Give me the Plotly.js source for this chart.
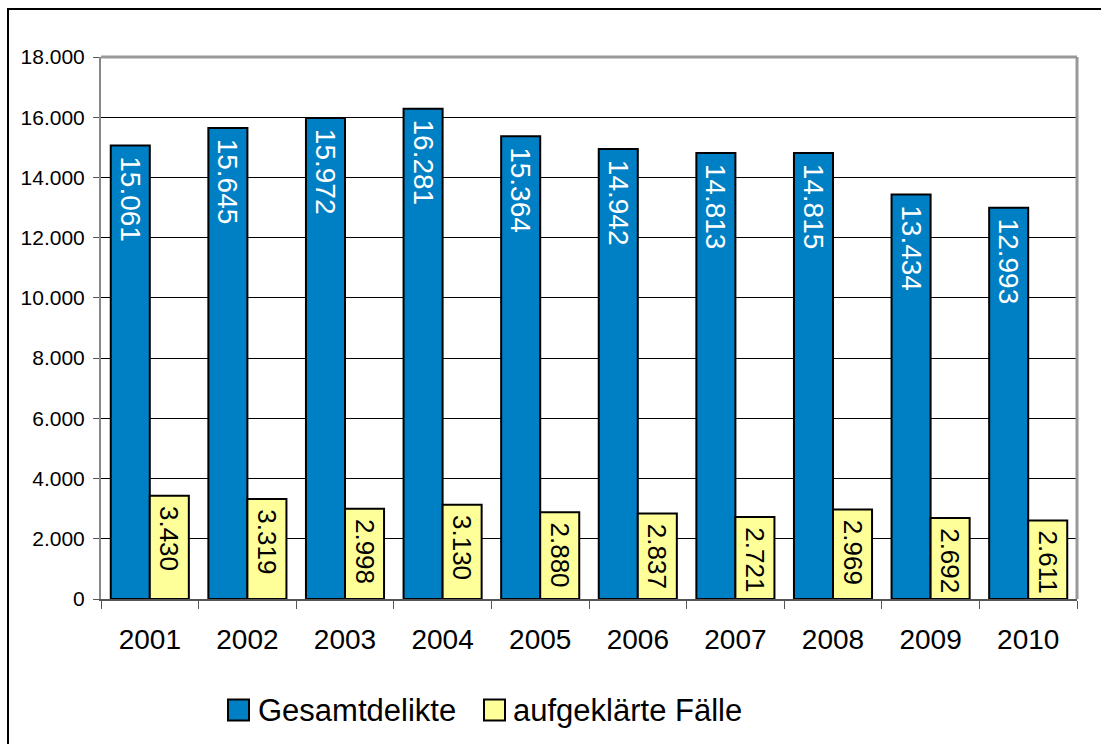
<!DOCTYPE html>
<html>
<head>
<meta charset="utf-8">
<script src="https://cdn.plot.ly/plotly-3.0.1.min.js"></script>
<style>
html,body{margin:0;padding:0;overflow:hidden;background:#fff;}
#frame{position:absolute;left:7px;top:8px;width:1300px;height:1000px;border-left:2px solid #000;border-top:2px solid #000;pointer-events:none;z-index:10;}
#chart{position:absolute;left:0;top:0;width:1101px;height:744px;}
</style>
</head>
<body>
<div id="chart"></div>
<div id="frame"></div>
<script>
const years = ['2001','2002','2003','2004','2005','2006','2007','2008','2009','2010'];
const gesamtdelikte = [15061,15645,15972,16281,15364,14942,14813,14815,13434,12993];
const aufgeklaerte = [3430,3319,2998,3130,2880,2837,2721,2969,2692,2611];
const yTicks = [0,2000,4000,6000,8000,10000,12000,14000,16000,18000];
const seriesNames = ['Gesamtdelikte','aufgeklärte Fälle'];
const seriesColors = ['#0080C4','#FFFF99'];

const font = 'Liberation Sans, Arial, sans-serif';
const W = 1101, H = 744, ML = 101, MR = 24, MT = 57, MB = 145;
const PW = W - ML - MR, PH = H - MT - MB;
const px = v => (v - ML) / PW;
const py = v => (H - MB - v) / PH;

const traces = [
  {
    type:'bar', name:seriesNames[0], x:years, y:gesamtdelikte,
    marker:{color:seriesColors[0], line:{color:'#000', width:2}},
    texttemplate:'\u00a0%{y:,d}', textposition:'inside', insidetextanchor:'end',
    textangle:90, insidetextfont:{family:font, size:28, color:'#fff'},
    constraintext:'none', hoverinfo:'none', showlegend:false
  },
  {
    type:'bar', name:seriesNames[1], x:years, y:aufgeklaerte,
    marker:{color:seriesColors[1], line:{color:'#000', width:2}},
    texttemplate:'\u00a0%{y:,d}', textposition:'inside', insidetextanchor:'end',
    textangle:90, insidetextfont:{family:font, size:26, color:'#000'},
    constraintext:'none', hoverinfo:'none', showlegend:false
  }
];

// custom legend (symbol boxes + labels)
const legendSymX = [228, 484];
const legendTxtX = [256, 511];
const legendY = 710;
const shapes = [
  {type:'line', xref:'paper', yref:'paper', x0:0, x1:1, y0:1, y1:1, line:{color:'#999', width:3}},
  {type:'line', xref:'paper', yref:'paper', x0:1, x1:1, y0:0, y1:1, line:{color:'#999', width:3}}
];
const annotations = [];
seriesNames.forEach((n, i) => {
  shapes.push({type:'rect', xref:'paper', yref:'paper',
    x0:px(legendSymX[i]), x1:px(legendSymX[i] + 21), y0:py(legendY + 10.5), y1:py(legendY - 10.5),
    fillcolor:seriesColors[i], line:{color:'#000', width:2}});
  annotations.push({xref:'paper', yref:'paper', x:px(legendTxtX[i]), y:py(legendY),
    xanchor:'left', yanchor:'middle', showarrow:false, text:n,
    font:{family:font, size:31, color:'#000'}});
});

const layout = {
  width:W, height:H,
  margin:{l:ML, r:MR, t:MT, b:MB},
  paper_bgcolor:'#fff', plot_bgcolor:'#fff',
  separators:',.',
  barmode:'group', bargap:0.2, bargroupgap:0,
  font:{family:font, color:'#000'},
  showlegend:false,
  xaxis:{type:'category', tickson:'boundaries', ticks:'outside', ticklen:8, tickcolor:'#555',
         showline:true, linecolor:'#555', linewidth:2, mirror:false, ticklabelstandoff:14,
         tickfont:{family:font, size:28, color:'#000'}, showgrid:false, zeroline:false},
  yaxis:{range:[0,18000], tickvals:yTicks, tickformat:',d', ticks:'outside', ticklen:6,
         tickcolor:'#555', showline:true, linecolor:'#888', linewidth:2, ticklabelstandoff:4,
         showgrid:true, gridcolor:'#000', gridwidth:1, zeroline:false,
         tickfont:{family:font, size:21, color:'#000'}},
  shapes:shapes,
  annotations:annotations
};

Plotly.newPlot('chart', traces, layout, {displayModeBar:false, staticPlot:true});
</script>
</body>
</html>
